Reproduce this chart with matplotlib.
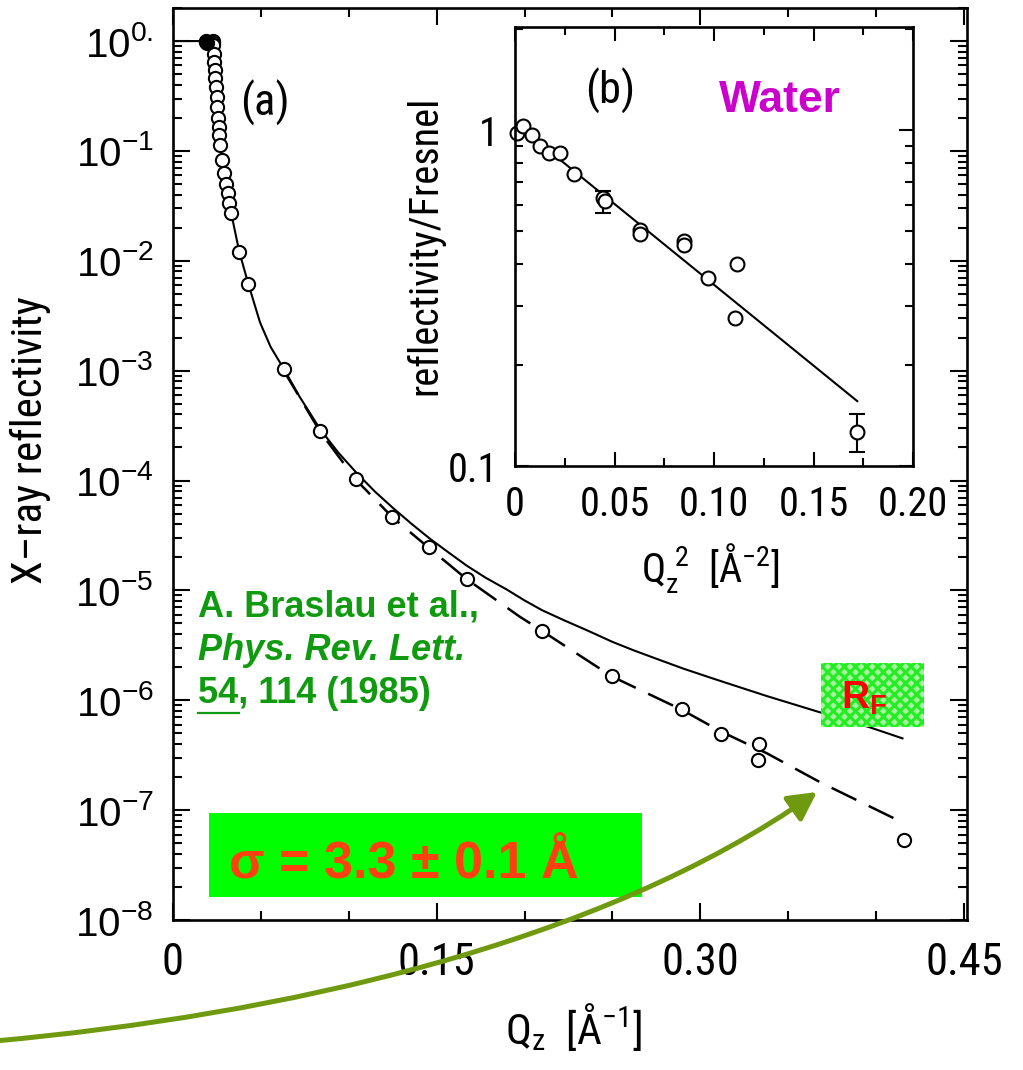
import numpy as np
import matplotlib
matplotlib.use('Agg')
import matplotlib.pyplot as plt
from matplotlib import font_manager
from matplotlib.ticker import LogLocator, MultipleLocator, NullFormatter
from matplotlib.patches import Rectangle, FancyArrowPatch
from matplotlib.path import Path
from matplotlib.lines import Line2D

W, H = 1023, 1070

# ---- panel (a): reflectivity of water vs Qz ----
qz_open = [0.0225, 0.0227, 0.0229, 0.0233, 0.0235, 0.0239, 0.0241, 0.0245, 0.0248,
           0.0252, 0.0256, 0.0260, 0.0263, 0.0267, 0.0277, 0.0292, 0.0301, 0.0311,
           0.0320, 0.0328, 0.0377, 0.0428, 0.0630, 0.0836, 0.1040, 0.1247, 0.1454,
           0.1670, 0.2097, 0.2496, 0.2894, 0.3117, 0.3335, 0.3330, 0.4156]
r_open = [1.0, 0.97, 0.92, 0.77, 0.65, 0.54, 0.46, 0.38, 0.31,
          0.25, 0.20, 0.166, 0.139, 0.113, 0.0824, 0.0624, 0.0499, 0.041,
          0.0333, 0.027, 0.0121, 0.0062, 1.04e-3, 2.83e-4, 1.03e-4, 4.65e-5, 2.48e-5,
          1.28e-5, 4.3e-6, 1.65e-6, 8.4e-7, 4.9e-7, 4.0e-7, 2.83e-7, 5.4e-8]
qz_filled = [0.0185, 0.0190, 0.0195]
r_filled = [0.99, 1.0, 0.97]

# Fresnel curve (solid)
qz_fresnel = [0.0, 0.0205, 0.0225, 0.0235, 0.0245, 0.0256, 0.0267, 0.0292, 0.0320,
              0.0377, 0.0428, 0.0495, 0.0555, 0.0630, 0.0720, 0.0836, 0.0940, 0.1045,
              0.1150, 0.1253, 0.1360, 0.1462, 0.1570, 0.1671, 0.1780, 0.1898, 0.2000,
              0.2100, 0.2230, 0.2360, 0.2500, 0.2620, 0.2740, 0.2900, 0.3060, 0.3220,
              0.3380, 0.3560, 0.3760, 0.3960, 0.4150]
r_fresnel = [1.0, 1.0, 0.9, 0.65, 0.38, 0.20, 0.113, 0.062, 0.033,
             0.0121, 0.0062, 2.75e-3, 1.65e-3, 1.04e-3, 5.8e-4, 2.95e-4, 1.8e-4, 1.17e-4,
             7.9e-5, 5.6e-5, 4.0e-5, 2.95e-5, 2.2e-5, 1.68e-5, 1.3e-5, 1.02e-5, 8.1e-6,
             6.6e-6, 5.3e-6, 4.3e-6, 3.4e-6, 2.85e-6, 2.42e-6, 1.95e-6, 1.6e-6, 1.32e-6,
             1.09e-6, 8.9e-7, 7.1e-7, 5.7e-7, 4.5e-7]

# rough-surface model (dashed)
qz_rough = [0.063, 0.0836, 0.104, 0.125, 0.1454, 0.167, 0.197, 0.2097, 0.2496,
            0.2894, 0.3117, 0.3377, 0.368, 0.411]
r_rough = [1.0e-3, 2.8e-4, 1.02e-4, 4.6e-5, 2.45e-5, 1.27e-5, 5.8e-6, 4.3e-6, 1.65e-6,
           8.2e-7, 5.2e-7, 3.3e-7, 1.8e-7, 8.3e-8]

x_ticks_a = [0, 0.15, 0.30, 0.45]
x_labels_a = ['0', '0.15', '0.30', '0.45']
y_ticks_a = [1e0, 1e-1, 1e-2, 1e-3, 1e-4, 1e-5, 1e-6, 1e-7, 1e-8]
y_labels_a = [r'$\mathregular{10^{0.}}$'] + [r'$\mathregular{10^{-%d}}$' % k for k in range(1, 9)]

# ---- panel (b): reflectivity / Fresnel vs Qz^2 ----
q2_b = [0.001, 0.004, 0.0087, 0.0126, 0.017, 0.0228, 0.0294, 0.0444, 0.045,
        0.0628, 0.0628, 0.085, 0.085, 0.0972, 0.1115, 0.1107, 0.172]
ratio_b = [0.98, 1.03, 0.97, 0.90, 0.854, 0.854, 0.739, 0.63, 0.615,
           0.505, 0.49, 0.469, 0.456, 0.363, 0.40, 0.275, 0.1265]
q2_err = [0.0444, 0.172]
ratio_err = [0.63, 0.1265]
err_low = [0.567, 0.110]
err_high = [0.66, 0.143]
q2_fit = [0.0, 0.172]
ratio_fit = [1.05, 0.156]

x_ticks_b = [0, 0.05, 0.10, 0.15, 0.20]
x_labels_b = ['0', '0.05', '0.10', '0.15', '0.20']
y_ticks_b = [0.1, 1]
y_labels_b = ['0.1', '1']

# pick a condensed face if one is installed
_names = {f.name for f in font_manager.fontManager.ttflist}
_dv_cond = any(f.name == 'DejaVu Sans' and f.stretch == 'condensed'
               for f in font_manager.fontManager.ttflist)
if 'Liberation Sans Narrow' in _names:
    NARROW, STRETCH, NSCALE = ['Liberation Sans Narrow', 'DejaVu Sans'], 'normal', 1.0
elif 'Roboto Condensed' in _names:
    NARROW, STRETCH, NSCALE = ['Roboto Condensed', 'DejaVu Sans'], 'normal', 1.0
elif _dv_cond:
    NARROW, STRETCH, NSCALE = ['DejaVu Sans', 'DejaVu Sans'], 'condensed', 0.95
else:
    NARROW, STRETCH, NSCALE = ['Liberation Sans', 'DejaVu Sans'], 'normal', 0.88
SANS = ['Liberation Sans', 'DejaVu Sans']
GREEN = '#109a10'


def fx(x):
    return x / W


def fy(y):
    return 1 - y / H


def ns(size):
    return size * NSCALE


fig = plt.figure(figsize=(W / 100, H / 100), dpi=100)

# main axes
ax = fig.add_axes([fx(173), fy(920), (967 - 173) / W, (920 - 8) / H])
ax.set_yscale('log')
ax.set_xlim(0, 0.4517)
ax.set_ylim(1e-8, 2.0)

ax.plot(qz_fresnel, r_fresnel, color='black', lw=1.5, zorder=2)
ax.plot(qz_rough, r_rough, color='black', lw=1.8, dashes=(11, 5.5), zorder=2)
ax.plot(qz_open, r_open, 'o', mfc='white', mec='black', ms=9.5, mew=1.5, zorder=3)
ax.plot(qz_filled, r_filled, 'o', color='black', ms=10, zorder=3)

ax.set_xticks(x_ticks_a)
ax.set_xticklabels(x_labels_a, fontfamily=NARROW, fontstretch=STRETCH, fontsize=ns(32))
ax.xaxis.set_minor_locator(MultipleLocator(0.05))
ax.set_yticks(y_ticks_a)
ax.set_yticklabels(y_labels_a, fontfamily=SANS, fontsize=29)
ax.yaxis.set_minor_locator(LogLocator(base=10, subs=np.arange(2, 10), numticks=100))
ax.yaxis.set_minor_formatter(NullFormatter())
ax.tick_params(which='both', direction='in', top=True, right=True, width=1.5)
ax.tick_params(which='major', length=12)
ax.tick_params(which='minor', length=6.5)
ax.tick_params(axis='x', which='major', pad=16)
ax.tick_params(axis='y', which='major', pad=14)
for s in ax.spines.values():
    s.set_linewidth(1.9)

# inset axes
axb = fig.add_axes([fx(515), fy(466), (913 - 515) / W, (466 - 27) / H])
axb.set_yscale('log')
axb.set_xlim(0, 0.2)
axb.set_ylim(0.1, 2.03)
axb.plot(q2_fit, ratio_fit, color='black', lw=1.5)
axb.errorbar(q2_err, ratio_err,
             yerr=[np.array(ratio_err) - np.array(err_low), np.array(err_high) - np.array(ratio_err)],
             fmt='none', ecolor='black', elinewidth=1.5, capsize=6, capthick=1.5)
axb.plot(q2_b, ratio_b, 'o', mfc='white', mec='black', ms=10, mew=1.5, clip_on=False)
axb.set_xticks(x_ticks_b)
axb.set_xticklabels(x_labels_b, fontfamily=NARROW, fontstretch=STRETCH, fontsize=ns(29))
axb.xaxis.set_minor_locator(MultipleLocator(0.025))
axb.set_yticks(y_ticks_b)
axb.set_yticklabels(y_labels_b, fontfamily=NARROW, fontstretch=STRETCH, fontsize=ns(29))
axb.yaxis.set_minor_locator(LogLocator(base=10, subs=np.arange(2, 10), numticks=100))
axb.yaxis.set_minor_formatter(NullFormatter())
axb.tick_params(which='both', direction='in', top=True, right=True, width=1.5)
axb.tick_params(which='major', length=10)
axb.tick_params(which='minor', length=6)
axb.tick_params(axis='x', which='major', pad=14)
axb.tick_params(axis='y', which='major', pad=12)
for s in axb.spines.values():
    s.set_linewidth(1.9)

# axis labels
txt = dict(fontfamily=NARROW, fontstretch=STRETCH)
fig.text(fx(30), fy(440), 'X\u2013ray reflectivity', rotation=90, ha='center', va='center',
         fontsize=ns(31), **txt)
fig.text(fx(573), fy(1027), r'Q$_\mathregular{z}$  [Å$^\mathregular{-1}$]', ha='center', va='center',
         fontsize=ns(31), **txt)
fig.text(fx(711), fy(568), r'Q$_\mathregular{z}^\mathregular{\ 2}$  [Å$^\mathregular{-2}$]', ha='center',
         va='center', fontsize=ns(29), **txt)
fig.text(fx(425), fy(245), 'reflectivity/Fresnel', rotation=90, ha='center', va='center',
         fontsize=ns(29), **txt)

fig.text(fx(265), fy(103), '(a)', ha='center', va='center', fontsize=ns(32), **txt)
fig.text(fx(610), fy(91), '(b)', ha='center', va='center', fontsize=ns(32), **txt)
fig.text(fx(780), fy(100), 'Water', ha='center', va='center', fontfamily=SANS,
         fontweight='bold', fontsize=32, color='#cc00cc')

# citation
fig.text(fx(198), fy(617), 'A. Braslau et al.,', ha='left', va='baseline', fontfamily=SANS,
         fontweight='bold', fontsize=26, color=GREEN)
fig.text(fx(198), fy(660), 'Phys. Rev. Lett.', ha='left', va='baseline', fontfamily=SANS,
         fontweight='bold', fontstyle='italic', fontsize=26, color=GREEN)
fig.text(fx(198), fy(703), '54, 114 (1985)', ha='left', va='baseline', fontfamily=SANS,
         fontweight='bold', fontsize=26, color=GREEN)
fig.add_artist(Line2D([fx(198), fx(239)], [fy(713), fy(713)], transform=fig.transFigure,
                      color=GREEN, lw=1.6))

# sigma box
fig.add_artist(Rectangle((fx(209), fy(897)), (642 - 209) / W, (897 - 813) / H,
                         transform=fig.transFigure, facecolor='#00ff00', edgecolor='none', zorder=5))
fig.text(fx(229), fy(877), '\u03c3 = 3.3 \u00b1 0.1 Å', ha='left', va='baseline', fontfamily=SANS,
         fontweight='bold', fontsize=37.5, color='#ff4010', zorder=6)

# R_F label
plt.rcParams['hatch.linewidth'] = 2.2
fig.add_artist(Rectangle((fx(821), fy(727)), (924 - 821) / W, (727 - 663) / H,
                         transform=fig.transFigure, facecolor='#a8f4a0', edgecolor='#22ee22',
                         hatch='xxx', lw=0, zorder=5))
fig.text(fx(841), fy(709), r'$\mathregular{R_F}$', ha='left', va='baseline', fontfamily=SANS,
         fontweight='bold', fontsize=28, color='#ff0000', zorder=6)

# curved green arrow
verts = [(fx(-5), fy(1041)), (fx(280), fy(1015)), (fx(600), fy(945)), (fx(817), fy(792))]
codes = [Path.MOVETO, Path.CURVE4, Path.CURVE4, Path.CURVE4]
arrow = FancyArrowPatch(path=Path(verts, codes), transform=fig.transFigure,
                        arrowstyle='-|>,head_length=0.85,head_width=0.45', mutation_scale=20,
                        color='#6f9a10', lw=3.6, zorder=10)
fig.add_artist(arrow)

fig.savefig('out.png', dpi=100)
